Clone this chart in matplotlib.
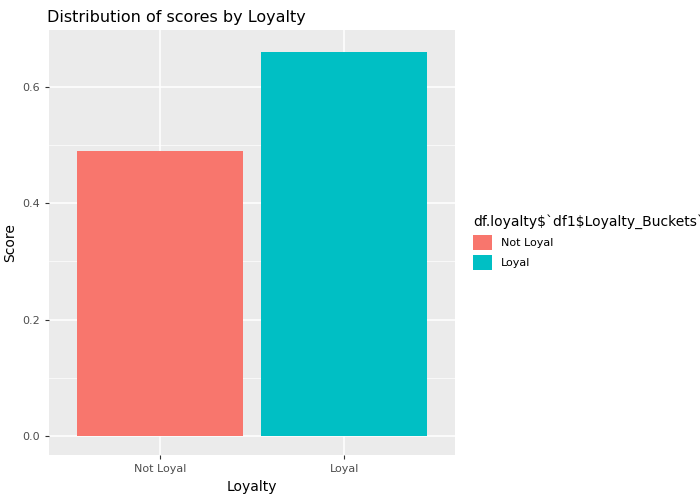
import numpy as np
import matplotlib.pyplot as plt
from matplotlib.patches import Patch

plt.rcParams['text.parse_math'] = False

# data
categories = ['Not Loyal', 'Loyal']
scores = [0.489, 0.659]
colors = ['#F8766D', '#00BFC4']

fig = plt.figure(figsize=(7, 5), dpi=100)
ax = fig.add_axes([0.07, 0.09, 0.58, 0.85])
ax.set_facecolor('#EBEBEB')

x = np.arange(1, len(categories) + 1)
ax.bar(x, scores, width=0.9, color=colors, zorder=3)

ax.set_xlim(0.4, 2.6)
ax.set_ylim(-0.0326, 0.697)
ax.set_yticks([0.0, 0.2, 0.4, 0.6])
ax.set_yticklabels(['0.0', '0.2', '0.4', '0.6'])
ax.set_yticks([0.1, 0.3, 0.5], minor=True)
ax.set_xticks(x)
ax.set_xticklabels(categories)
ax.grid(True, which='major', color='white', linewidth=1.1, zorder=0)
ax.grid(True, which='minor', axis='y', color='white', linewidth=0.5, zorder=0)
for s in ax.spines.values():
    s.set_visible(False)
ax.tick_params(which='major', colors='#333333', labelcolor='#4D4D4D', labelsize=8, length=3)
ax.tick_params(which='minor', length=0)

ax.set_xlabel('Loyalty', fontsize=10)
ax.set_ylabel('Score', fontsize=10)
ax.set_title('Distribution of scores by Loyalty', loc='left', fontsize=11.5, x=-0.005)

handles = [Patch(facecolor=c, label=l) for c, l in zip(colors, categories)]
leg = ax.legend(handles=handles, title='df.loyalty$`df1$Loyalty_Buckets`',
                loc='center left', bbox_to_anchor=(1.02, 0.5), frameon=False,
                fontsize=8, title_fontsize=10, handlelength=1.7, handleheight=1.7,
                alignment='left')
fig.savefig('out.png')
